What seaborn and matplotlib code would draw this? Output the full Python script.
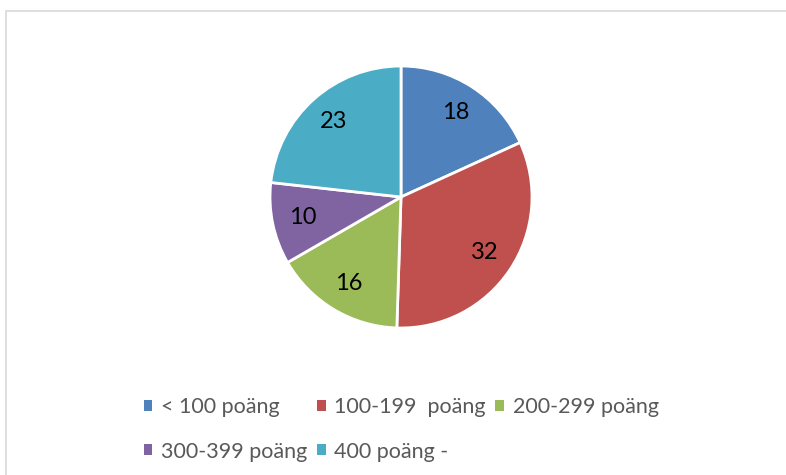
import matplotlib
matplotlib.use("Agg")
import matplotlib.pyplot as plt
import matplotlib.patches as mpatches
import seaborn as sns

# Data
categories = ["< 100 poäng", "100-199  poäng", "200-299 poäng", "300-399 poäng", "400 poäng -"]
values = [18, 32, 16, 10, 23]
colors = ["#4F81BD", "#C0504D", "#9BBB59", "#8064A2", "#4BACC6"]

sns.set_theme(style="white")
plt.rcParams["font.family"] = ["Lato", "DejaVu Sans"]

W, H = 786, 475
fig = plt.figure(figsize=(W / 100, H / 100), dpi=100)

# chart border like the office chart frame
fig.patches.append(mpatches.Rectangle((6.5 / W, -0.1), 1.2, 1 - 11.5 / H + 0.1,
                                      transform=fig.transFigure, fill=False,
                                      edgecolor="#D9D9D9", linewidth=1.2))

# pie centre (401, 197) px, radius 131 px
cx, cy, r = 401, 197, 131
half = r * 1.25
ax = fig.add_axes([(cx - half) / W, (H - cy - half) / H, 2 * half / W, 2 * half / H])
wedges, texts = ax.pie(values, colors=colors, startangle=90, counterclock=False,
                       labels=[str(v) for v in values], labeldistance=0.77,
                       wedgeprops=dict(edgecolor="white", linewidth=2),
                       textprops=dict(fontsize=17, color="black"))
for t in texts:
    t.set_ha("center")
    t.set_va("center")
ax.set_xlim(-1.25, 1.25)
ax.set_ylim(-1.25, 1.25)

# legend: 3 columns, filled column-wise so reorder
handles = [mpatches.Patch(facecolor=c, edgecolor="none") for c in colors]
order = [0, 3, 1, 4, 2]
leg = fig.legend([handles[i] for i in order], [categories[i] for i in order],
                 ncol=3, loc="upper left", bbox_to_anchor=(133 / W, 1 - 386 / H),
                 frameon=False, fontsize=15.5, handlelength=0.4, handleheight=0.4,
                 handletextpad=0.4, columnspacing=0.45, labelspacing=1.15, borderpad=0)
for t in leg.get_texts():
    t.set_color("#595959")

fig.savefig("out.png", dpi=100)
